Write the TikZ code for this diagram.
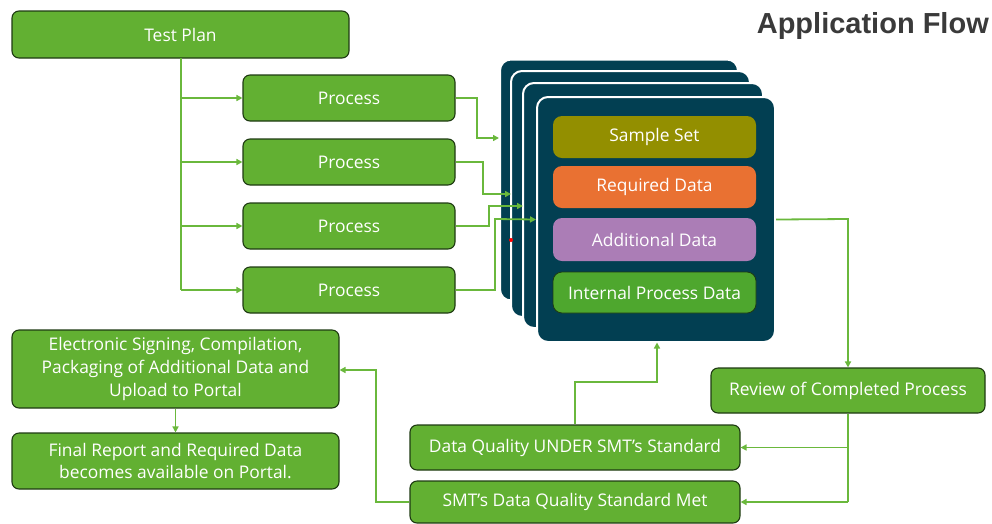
\documentclass[tikz,border=0pt]{standalone}
\usepackage{fontspec}
\setmainfont{Open Sans}
\newfontfamily\titlefont{Liberation Sans}
\usetikzlibrary{arrows.meta}
\definecolor{gbox}{HTML}{62B032}
\definecolor{gline}{HTML}{6AB83C}
\definecolor{gborder}{HTML}{1E3A12}
\definecolor{card}{HTML}{023F52}
\definecolor{olive}{HTML}{938F00}
\definecolor{orng}{HTML}{E97132}
\definecolor{purp}{HTML}{AB7DB6}
\definecolor{igreen}{HTML}{4EA72E}
\definecolor{titlec}{HTML}{3A3A3A}
\tikzset{
  gb/.style={draw=gborder, line width=1.1pt, fill=gbox, rounded corners=7pt, text=white, font=\fontsize{17.4}{22.7}\selectfont, align=center, inner sep=0pt},
  cardbox/.style={draw=white, line width=2pt, fill=card, rounded corners=11pt},
  inb/.style={rounded corners=9pt, text=white, font=\fontsize{17.4}{21}\selectfont, inner sep=0pt},
  conn/.style={draw=gline, line width=1.8pt, -{Triangle[length=6pt,width=6pt]}},
  plain/.style={draw=gline, line width=1.8pt}
}
\begin{document}
\begin{tikzpicture}[x=1pt,y=-1pt]
\useasboundingbox (0,0) rectangle (992,523);
% title
\node[anchor=east, text=titlec, font=\titlefont\fontsize{29}{32}\selectfont\bfseries, inner sep=0pt] (title) at (989,26) {Application Flow};
% test plan
\node[gb, minimum width=337pt, minimum height=47pt] (tp) at (180.5,34.5) {Test Plan};
% processes
\node[gb, minimum width=212pt, minimum height=46pt] (p1) at (349,98) {Process};
\node[gb, minimum width=212pt, minimum height=46pt] (p2) at (349,162) {Process};
\node[gb, minimum width=212pt, minimum height=46pt] (p3) at (349,226) {Process};
\node[gb, minimum width=212pt, minimum height=46pt] (p4) at (349,290) {Process};
\coordinate (tr) at (181,58);
\draw[plain] (tr) -- (181,290);
\draw[conn] (181,98) -- (p1.west);
\draw[conn] (181,162) -- (p2.west);
\draw[conn] (181,226) -- (p3.west);
\draw[conn] (181,290) -- (p4.west);
% cards
\node[cardbox, minimum width=238pt, minimum height=241pt] (c1) at (619,180) {};
\node[cardbox, minimum width=239pt, minimum height=246pt] (c2) at (630.5,194) {};
\node[cardbox, minimum width=240pt, minimum height=245pt] (c3) at (643,205.5) {};
\node[cardbox, minimum width=238pt, minimum height=245pt] (c4) at (656,219.5) {};
\node[inb, fill=olive, minimum width=203pt, minimum height=42pt] (ss) at (654.5,137) {Sample Set};
\node[inb, fill=orng, minimum width=203pt, minimum height=42pt] (rd) at (654.5,187) {Required Data};
\node[inb, fill=purp, minimum width=203pt, minimum height=43pt] (ad) at (654.5,239.5) {Additional Data};
\node[inb, fill=igreen, draw=gborder, line width=0.8pt, minimum width=203pt, minimum height=41pt] (ip) at (654.5,292.5) {Internal Process Data};
\fill[red] (511,240) circle (2pt);
% process to cards
\draw[conn] (p1.east) -- (477,98) -- (477,138) -- (499,138);
\draw[conn] (p2.east) -- (483,162) -- (483,194) -- (511,194);
\draw[conn] (p3.east) -- (489,226) -- (489,206) -- (523,206);
\draw[conn] (p4.east) -- (495,290) -- (495,219) -- (c4.west);
% review
\node[gb, minimum width=274pt, minimum height=45pt] (rv) at (848,390.5) {Review of Completed Process};
\draw[conn] (c4.east) -- (848,219) -- (rv.north);
\node[gb, minimum width=330pt, minimum height=45pt] (uq) at (575,447.5) {Data Quality UNDER SMT’s Standard};
\node[gb, minimum width=330pt, minimum height=42pt] (mt) at (575,502) {SMT’s Data Quality Standard Met};
\draw[plain] (rv.south) -- (848,502);
\draw[conn] (848,447.5) -- (uq.east);
\draw[conn] (848,502) -- (mt.east);
\draw[conn] (uq.north) -- (575,382) -- (657,382) -- (657,342.5);
% electronic
\node[gb, minimum width=327pt, minimum height=78pt] (es) at (175.5,369) {Electronic Signing, Compilation,\\Packaging of Additional Data and\\Upload to Portal};
\node[gb, minimum width=327pt, minimum height=56pt] (fr) at (175.5,461) {Final Report and Required Data\\becomes available on Portal.};
\draw[conn] (mt.west) -- (376,502) -- (376,370) -- (es.east |- 0,370);
\draw[conn] (es.south) -- (fr.north);
\end{tikzpicture}
\end{document}
